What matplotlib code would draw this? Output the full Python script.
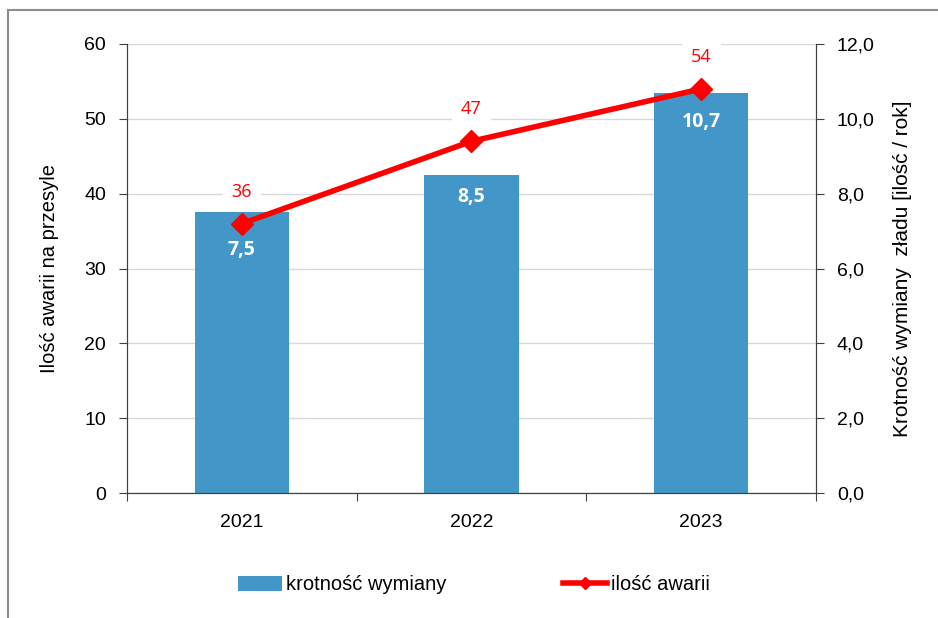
import matplotlib.pyplot as plt
from matplotlib.lines import Line2D

plt.rcParams['font.family'] = ['Liberation Sans', 'DejaVu Sans']

# data
years = ["2021", "2022", "2023"]
krotnosc = [7.5, 8.5, 10.7]      # krotność wymiany zładu (prawa oś)
awarie = [36, 47, 54]            # ilość awarii na przesyle (lewa oś)
bar_labels = ["7,5", "8,5", "10,7"]
left_ticks = [0, 10, 20, 30, 40, 50, 60]
right_ticks = [0, 2, 4, 6, 8, 10, 12]
right_ticklabels = ["0,0", "2,0", "4,0", "6,0", "8,0", "10,0", "12,0"]

blue = "#4397C8"
red = "#FF0000"
x = list(range(len(years)))

fig = plt.figure(figsize=(9.38, 6.18), dpi=100)
ax = fig.add_axes([127 / 938, 1 - 493 / 618, (816 - 127) / 938, (493 - 44) / 618])
ax2 = ax.twinx()

# bars on right scale (ax), line on left scale (ax2)
ax.bar(x, krotnosc, width=0.41, color=blue, zorder=2, label="krotność wymiany")
ax.set_ylim(0, 12)
ax.set_xlim(-0.5, 2.5)
ax.yaxis.tick_right()
ax.yaxis.set_label_position("right")
ax.set_yticks(right_ticks)
ax.set_yticklabels(right_ticklabels)
ax.grid(axis="y", color="#D9D9D9", linewidth=1)
ax.set_axisbelow(True)

ax2.yaxis.tick_left()
ax2.yaxis.set_label_position("left")
ax2.plot(x, awarie, color=red, linewidth=4, marker="D", markersize=11, zorder=3,
         label="ilość awarii")
ax2.set_ylim(0, 60)
ax2.set_yticks(left_ticks)

# x ticks at category boundaries, labels in the middle
ax.set_xticks([-0.5, 0.5, 1.5, 2.5])
ax.set_xticklabels([])
ax.set_xticks(x, minor=True)
ax.set_xticklabels(years, minor=True, fontsize=14)
ax.tick_params(axis="x", which="minor", length=0, pad=15)
ax.tick_params(axis="x", which="major", length=6, direction="out", color="#404040")
ax.tick_params(axis="y", length=6, direction="out", labelsize=14, pad=9, color="#404040")
ax2.tick_params(axis="y", length=6, direction="out", labelsize=14, pad=9, color="#404040")

for a in (ax, ax2):
    a.spines["top"].set_visible(False)
    for s in ("left", "right", "bottom"):
        a.spines[s].set_color("#404040")

ax2.set_ylabel("Ilość awarii na przesyle", fontsize=14.5, labelpad=18)
ax.set_ylabel("Krotność wymiany  zładu [ilość / rok]", fontsize=15, labelpad=13)

# data labels
bar_offsets = [-27, -16, -21]
for i, (v, lab, off) in enumerate(zip(krotnosc, bar_labels, bar_offsets)):
    ax.annotate(lab, xy=(i, v), xytext=(0, off), textcoords="offset points",
                ha="center", va="center", color="white", fontsize=14,
                fontweight="bold", family=["Open Sans", "DejaVu Sans"], zorder=4)
for i, v in enumerate(awarie):
    ax2.annotate(str(v), xy=(i, v), xytext=(0, 23), textcoords="offset points",
                 ha="center", va="center", color=red, fontsize=13,
                 family=["Open Sans", "DejaVu Sans"],
                 bbox=dict(boxstyle="square,pad=0.5", fc="white", ec="none"))

# legend
h1, l1 = ax.get_legend_handles_labels()
h2, l2 = ax2.get_legend_handles_labels()
fig.legend(h1 + h2, l1 + l2, loc="center", bbox_to_anchor=(474 / 938, 1 - 585 / 618),
           ncol=2, frameon=False, fontsize=14.5, handlelength=2.2, columnspacing=5.8,
           handletextpad=0.2, markerscale=0.6)

# outer chart frame
fig.add_artist(Line2D([8 / 938, 8 / 938], [0, 1 - 10 / 618], color="#8C8C8C", linewidth=1.5))
fig.add_artist(Line2D([8 / 938, 1], [1 - 10 / 618, 1 - 10 / 618], color="#8C8C8C", linewidth=1.5))

fig.savefig("out.png", dpi=100)
